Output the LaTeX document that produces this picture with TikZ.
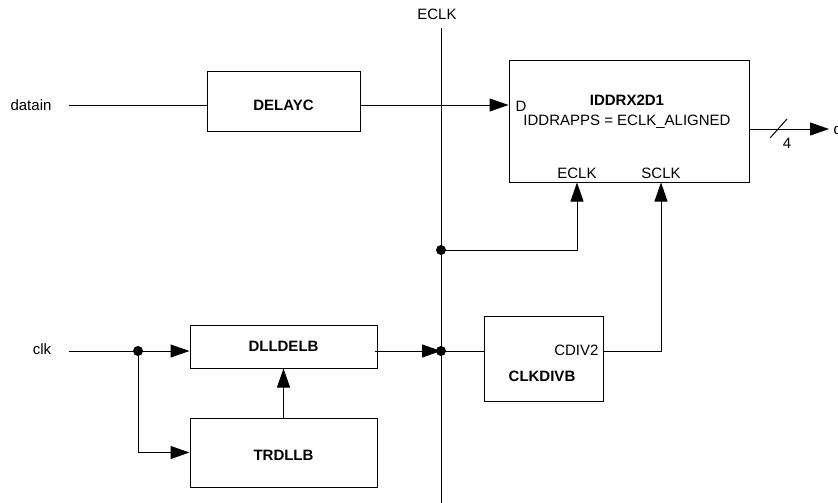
\documentclass[tikz,border=0pt]{standalone}
\usepackage{fontspec}
\setmainfont{Liberation Sans}
\usetikzlibrary{arrows.meta}
\begin{document}
\begin{tikzpicture}[x=1pt,y=-1pt,line width=1pt,
  box/.style={draw,line width=1pt,inner sep=0pt},
  lbl/.style={font=\fontsize{15}{17}\selectfont,inner sep=0pt},
  bl/.style={font=\fontsize{15}{17}\selectfont\bfseries,inner sep=0pt},
  arr/.style={-{Triangle[length=19pt,width=13pt]}},
  jdot/.style={circle,fill,inner sep=0pt,minimum size=10pt}]
\useasboundingbox (0,0) rectangle (838,503);
% boxes
\node[box,minimum width=153pt,minimum height=59pt] (delay) at (283.5,101.5) {};
\node[bl] at (283.5,105) {DELAYC};
\node[box,minimum width=240pt,minimum height=121pt] (iddr) at (629,121.5) {};
\node[bl] at (627,100) {IDDRX2D1};
\node[lbl] at (627,122) {IDDRAPPS = ECLK\_ALIGNED};
\node[lbl] (dport) at (521,106) {D};
\node[lbl] (eport) at (577,173) {ECLK};
\node[lbl] (sport) at (661,173) {SCLK};
\node[box,minimum width=187pt,minimum height=43pt] (dll) at (283.5,346.5) {};
\node[bl] at (283.5,346) {DLLDELB};
\node[box,minimum width=187pt,minimum height=69pt] (trd) at (283.5,452.5) {};
\node[bl] at (283.5,455) {TRDLLB};
\node[box,minimum width=119pt,minimum height=85pt] (cdiv) at (543.5,358.5) {};
\node[lbl,anchor=east] (cdiv2) at (599,350) {CDIV2};
\node[bl] at (542,376) {CLKDIVB};
% labels
\node[lbl] (eclk) at (437,14) {ECLK};
\node[lbl] (datain) at (31,105) {datain};
\node[lbl] (clk) at (42,349) {clk};
\node[lbl] (four) at (787,143) {4};
\node[lbl,anchor=west] (dout) at (833,129) {dataout};
% coordinates
\coordinate (et) at (441,28);
\coordinate (eb) at (441,505);
\coordinate (j1) at (441,250);
\coordinate (j2) at (441,351);
\coordinate (j0) at (138,351);
\coordinate (din) at (69,105);
\coordinate (cin) at (69,351);
\coordinate (oend) at (829,129);
\coordinate (s1) at (770,138);
\coordinate (s2) at (787,119);
% ECLK line
\draw (et) -- (eb);
% datain path
\draw (din) -- (delay.west |- din);
\draw[arr] (delay.east |- din) -- (iddr.west |- din);
% output
\draw[arr] (iddr.east |- oend) -- (oend);
\draw (s1) -- (s2);
% ECLK to IDDR
\draw[arr] (j1) -| (eport.center |- iddr.south);
\node[jdot] at (j1) {};
% clk
\draw (cin) -- (j0);
\draw[arr] (j0) -- (dll.west |- j0);
\draw[arr] (j0) |- (trd.west);
\node[jdot] at (j0) {};
\draw[arr] (trd.north) -- (dll.south);
\draw[arr] ([xshift=-3pt]dll.east |- j2) -- (j2);
\draw (j2) -- (cdiv.west |- j2);
\node[jdot] at (j2) {};
% SCLK
\draw[arr] (cdiv.east |- j2) -| (sport.center |- iddr.south);
\end{tikzpicture}
\end{document}
